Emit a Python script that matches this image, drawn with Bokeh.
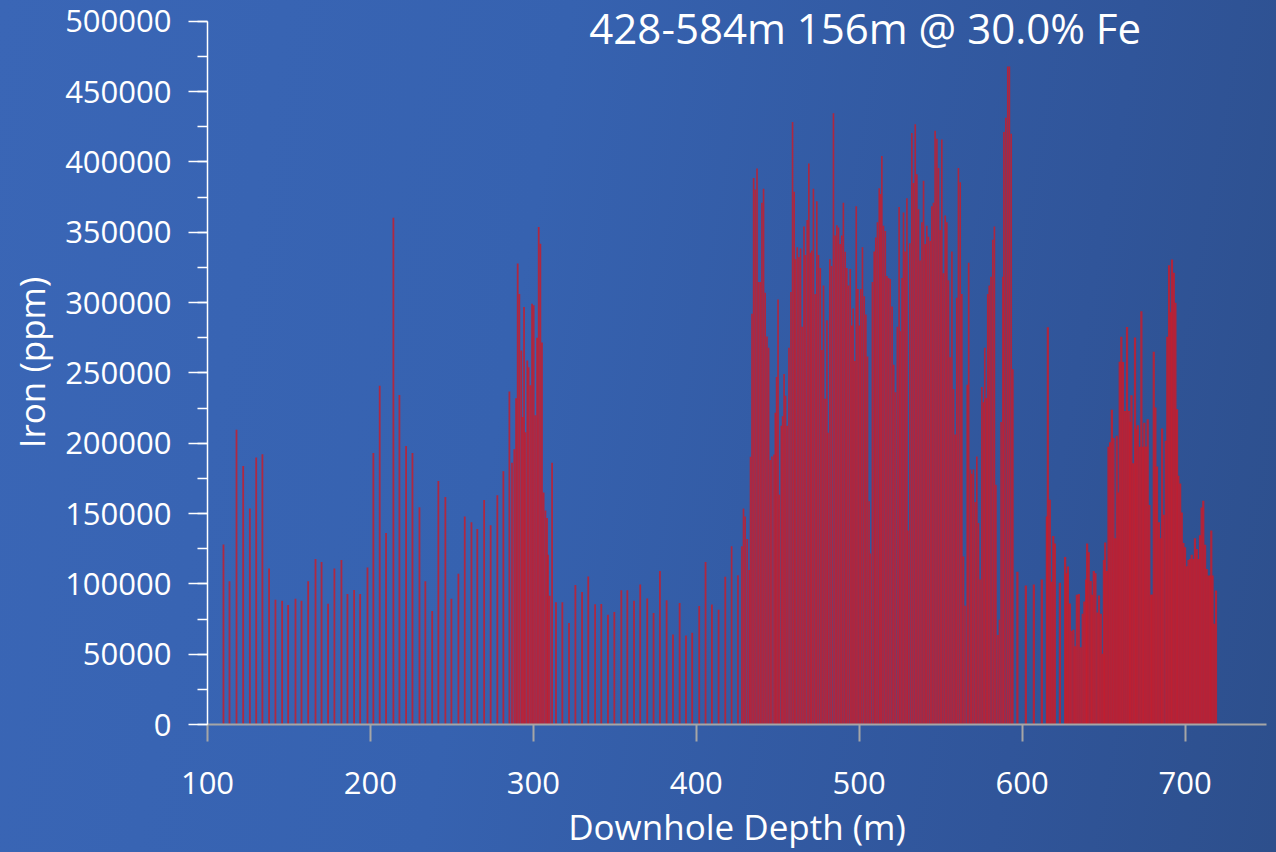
from bokeh.plotting import figure
from bokeh.models import Range1d, Label, SingleIntervalTicker, FixedTicker, BasicTickFormatter
from bokeh.embed import file_html
from bokeh.resources import INLINE

# ---------------- data ----------------
title_text = "428-584m 156m @ 30.0% Fe"
x_label = "Downhole Depth (m)"
y_label = "Iron (ppm)"
x_ticks = [100, 200, 300, 400, 500, 600, 700]

# sparse upper section (approx. 4 m samples) + first cluster
depth_upper = [109.8, 113.5, 117.8, 121.9, 126.0, 129.9, 133.7, 137.8, 141.7, 145.8, 149.5, 154.0,
               157.7, 161.8, 166.3, 170.0, 174.0, 177.9, 182.2, 185.9, 190.0, 193.7, 198.2, 201.8,
               205.7, 209.6, 214.1, 217.8, 221.9, 225.8, 230.1, 233.7, 237.9, 241.7, 246.0, 249.7,
               254.0, 257.9, 262.0, 265.6, 269.8, 273.8, 277.9, 281.6, 285.3, 286.9, 288.3, 289.4,
               290.4, 291.4, 292.6, 293.4, 294.3, 295.1, 296.3, 297.1, 298.2, 299.2, 300.2, 301.2,
               302.3, 303.3, 304.3, 305.3, 306.3, 307.4, 308.4, 309.0, 310.0, 311.5, 313.9, 317.8,
               321.9, 325.8, 329.9, 333.7, 337.9, 341.7, 345.8, 349.7, 354.0, 357.7, 361.8, 365.6,
               369.9, 373.8, 377.7, 381.8, 385.7, 389.8, 393.7, 397.5, 401.8, 405.7, 409.6, 413.7,
               417.8]
iron_upper = [127900, 101900, 209600, 183800, 153500, 189800, 192200, 110900, 88600, 87900, 85000, 89400,
              87900, 101900, 117700, 115600, 85800, 110900, 117000, 92800, 95700, 92800, 111600, 193000,
              240900, 136100, 360200, 234300, 198000, 193000, 154400, 101900, 80600, 173100, 161700, 89400,
              107100, 147900, 143800, 139000, 159600, 141600, 163000, 180100, 236700, 186000, 195600, 231900,
              327800, 306000, 265800, 218600, 296800, 207700, 258800, 254000, 241100, 299200, 298000, 219900,
              275000, 353600, 341800, 271600, 164900, 152100, 146800, 120600, 91500, 186000, 86900, 86900,
              72200, 99100, 94200, 105300, 85400, 85600, 78000, 79900, 95500, 95500, 87900, 99500,
              89600, 79200, 109200, 88400, 64000, 86300, 63300, 65200, 84200, 115600, 85300, 81600,
              105000]

# main mineralised interval (approx. 1 m samples)
depth_main = [421.7, 425.6, 428.0, 429.0, 430.0, 431.3, 432.5, 433.3, 434.2, 435.2, 436.2, 437.3,
              438.3, 439.3, 440.3, 441.3, 442.3, 443.4, 444.4, 445.4, 446.4, 447.7, 448.5, 449.3,
              450.2, 451.0, 452.2, 453.0, 453.9, 454.8, 455.8, 456.9, 458.1, 459.1, 460.1, 460.9,
              462.0, 463.0, 464.0, 465.0, 466.1, 466.9, 468.1, 469.1, 470.1, 470.9, 471.9, 473.0,
              474.0, 475.0, 476.1, 477.1, 478.1, 479.1, 480.2, 480.8, 482.0, 483.0, 484.2, 485.3,
              486.3, 487.3, 488.3, 489.3, 490.3, 491.4, 492.4, 493.4, 494.5, 495.5, 496.3, 497.3,
              498.2, 499.2, 500.2, 501.0, 502.0, 503.1, 504.1, 505.1, 506.1, 506.9, 508.1, 509.2,
              510.2, 511.2, 512.3, 513.1, 513.9, 514.9, 516.0, 517.0, 518.0, 519.0, 520.2, 521.2,
              522.2, 523.4, 524.5, 525.2, 526.3, 527.2, 528.2, 529.3, 529.9, 531.1, 532.3, 533.3,
              534.4, 535.4, 536.4, 537.4, 538.5, 539.5, 540.5, 541.5, 542.5, 543.6, 544.6, 545.6,
              546.6, 547.7, 548.7, 549.7, 550.7, 551.7, 552.8, 553.8, 554.8, 555.8, 556.9, 557.9,
              558.9, 559.9, 560.9, 562.0, 563.0, 564.0, 565.0, 566.3, 567.2, 568.3, 569.1, 570.1,
              571.2, 572.2, 573.2, 574.2, 575.3, 576.3, 577.1, 578.1, 578.9, 579.8, 580.9, 582.0,
              583.0, 583.9, 585.1, 586.1, 587.1, 588.2, 588.8, 590.0, 591.2, 592.2, 593.3, 594.3]
iron_main = [126800, 106100, 126800, 153500, 147900, 131800, 109800, 190300, 292000, 388600, 380300, 395200,
             314600, 314600, 371000, 380900, 306900, 275900, 267800, 188100, 190600, 191900, 221600, 247000,
             302200, 163400, 212300, 219100, 249200, 233800, 212300, 267800, 307500, 428300, 378700, 330700,
             339300, 332300, 338400, 282700, 354000, 333800, 358600, 398900, 335400, 336900, 380900, 306000,
             371900, 333800, 324500, 266200, 312100, 231600, 287300, 207400, 330700, 326000, 434500, 347700,
             354900, 353400, 341600, 347700, 371000, 336000, 324500, 312100, 323900, 283600, 295700, 258500,
             368500, 309600, 283600, 309600, 339300, 304400, 291400, 261600, 158700, 121600, 314600, 336300,
             346200, 357000, 381200, 377200, 404100, 354500, 350800, 318900, 317400, 316700, 297200, 255700,
             236200, 282700, 367900, 279600, 317400, 363900, 336300, 374100, 138000, 342200, 420500, 385000,
             426700, 391200, 366300, 329800, 357000, 386500, 341600, 354500, 346800, 343700, 368500, 371000,
             422100, 416500, 395700, 351500, 415900, 320800, 361800, 357000, 315800, 261000, 336300, 238400,
             206200, 303400, 395700, 385500, 306000, 119400, 84400, 241500, 328200, 181300, 178200, 181300,
             158100, 190600, 143300, 103000, 239900, 229100, 267800, 232200, 306000, 312100, 318300, 344700,
             354000, 170500, 63600, 74500, 215100, 318300, 421200, 431400, 467700, 467700, 419900, 252600]

# lower section
depth_lower = [597.1, 602.3, 607.2, 612.1, 615.2, 615.8, 617.0, 618.0, 619.1, 620.1, 623.2, 626.4,
               627.2, 628.1, 629.3, 630.3, 631.5, 632.5, 633.6, 634.8, 636.0, 637.2, 638.2, 639.3,
               639.9, 640.9, 642.1, 642.9, 644.0, 645.0, 646.2, 647.2, 648.3, 649.3, 650.2, 651.0,
               652.0, 653.0, 654.0, 655.1, 656.1, 657.1, 658.1, 659.1, 659.9, 660.9, 661.9, 663.2,
               664.4, 665.5, 666.3, 667.1, 668.1, 669.3, 670.1, 671.0, 672.2, 673.2, 674.2, 675.0,
               676.1, 677.1, 678.1, 679.1, 679.9, 680.8, 681.8, 682.8, 684.0, 685.1, 685.9, 686.9,
               688.2, 689.1, 690.2, 691.2, 692.0, 693.1, 694.1, 695.1, 695.9, 697.0, 698.0, 699.0,
               700.0, 701.1, 702.1, 703.1, 704.1, 705.1, 706.1, 707.2, 708.2, 709.2, 710.2, 711.2,
               712.3, 713.3, 714.3, 715.3, 716.1, 716.9, 717.9, 719.0]
iron_lower = [108600, 98900, 99600, 103000, 147900, 282400, 159700, 101400, 134000, 128700, 100700, 119100,
              107600, 112300, 86000, 66500, 67400, 55600, 92200, 92800, 54900, 78700, 87500, 103000,
              128700, 122500, 102100, 92200, 109200, 107600, 79700, 91700, 78700, 50300, 116900, 129300,
              109200, 197500, 200600, 223800, 203700, 132400, 205200, 165000, 257900, 275700, 257700, 222900,
              282500, 222900, 215300, 234000, 185800, 275200, 209900, 212800, 197400, 293800, 197400, 214600,
              197600, 217000, 156000, 92200, 92400, 265000, 225300, 183400, 143700, 132400, 210400, 149100,
              201700, 275700, 326500, 293100, 330500, 321100, 299800, 224100, 176800, 171400, 150800, 129100,
              126000, 112500, 117000, 117700, 120600, 117700, 132400, 124800, 117700, 134500, 154300, 159100,
              127800, 110600, 105900, 105900, 138000, 105900, 71600, 95200]

# ---------------- figure ----------------
FONT = "Open Sans"
BAR = "#c61d2d"
p = figure(width=1276, height=852, output_backend="svg", toolbar_location=None,
           x_range=Range1d(100, 750), y_range=Range1d(0, 514700),
           min_border_left=207, min_border_right=10, min_border_top=0, min_border_bottom=126)
p.styles = {"background": "linear-gradient(100deg, #3a66b6 0%, #3662b0 40%, #30559a 80%, #2d4f8c 100%)"}
p.background_fill_color = None
p.border_fill_color = None
p.outline_line_color = None
p.grid.visible = False

p.vbar(x=depth_upper, top=iron_upper, bottom=0, width=1.1, fill_color=BAR, fill_alpha=0.85, line_color=None)
p.vbar(x=depth_main, top=iron_main, bottom=0, width=1.0, fill_color=BAR, fill_alpha=0.85, line_color=None)
p.vbar(x=depth_lower, top=iron_lower, bottom=0, width=1.35, fill_color=BAR, fill_alpha=0.85, line_color=None)

# x axis
xa = p.xaxis[0]
xa.ticker = FixedTicker(ticks=x_ticks)
xa.axis_line_color = "#a6a6a6"
xa.axis_line_width = 2
xa.major_tick_line_color = "#a6a6a6"
xa.major_tick_line_width = 2
xa.major_tick_in = 0
xa.major_tick_out = 17
xa.minor_tick_line_color = None
xa.major_label_text_color = "white"
xa.major_label_text_font = FONT
xa.major_label_text_font_size = "31px"
xa.major_label_standoff = 30
xa.axis_label = x_label
xa.axis_label_text_color = "white"
xa.axis_label_text_font = FONT
xa.axis_label_text_font_style = "normal"
xa.axis_label_text_font_size = "35px"
xa.axis_label_standoff = 6

# y axis
ya = p.yaxis[0]
ya.bounds = (0, 500000)
ya.ticker = SingleIntervalTicker(interval=50000, num_minor_ticks=2)
ya.formatter = BasicTickFormatter(use_scientific=False)
ya.axis_line_color = "white"
ya.axis_line_width = 1.5
ya.major_tick_line_color = "white"
ya.major_tick_line_width = 1.5
ya.major_tick_in = 0
ya.major_tick_out = 19
ya.minor_tick_line_color = "white"
ya.minor_tick_line_width = 1.5
ya.minor_tick_in = 0
ya.minor_tick_out = 10
ya.major_label_text_color = "white"
ya.major_label_text_font = FONT
ya.major_label_text_font_size = "31px"
ya.major_label_standoff = 17
ya.axis_label = y_label
ya.axis_label_text_color = "white"
ya.axis_label_text_font = FONT
ya.axis_label_text_font_style = "normal"
ya.axis_label_text_font_size = "35px"
ya.axis_label_standoff = 7

p.add_layout(Label(x=503.7, y=495500, text=title_text, text_align="center", text_baseline="middle",
                   text_color="white", text_font=FONT, text_font_size="42px"))

open("out.html", "w").write(file_html(p, INLINE))
